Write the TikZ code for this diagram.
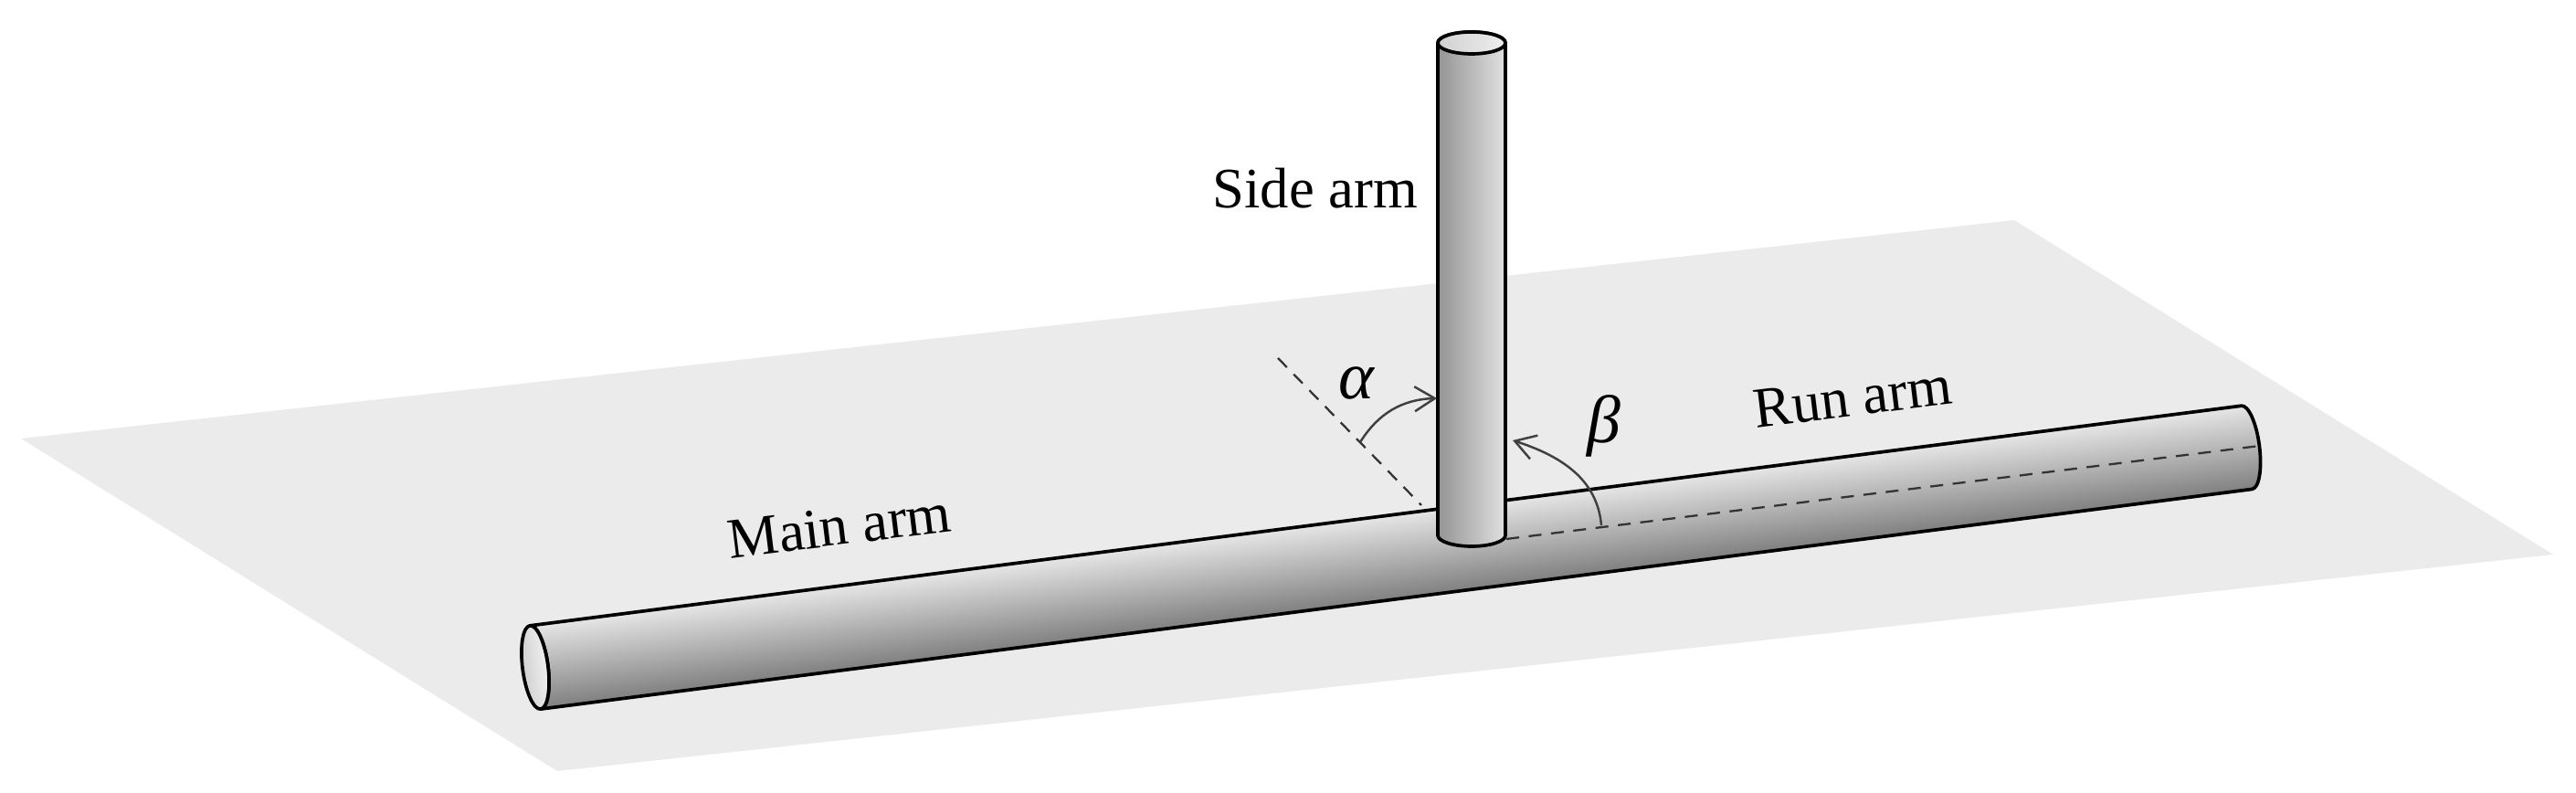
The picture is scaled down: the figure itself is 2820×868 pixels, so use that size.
\documentclass[tikz,border=0pt]{standalone}
\usepackage{fontspec}
\setmainfont{Liberation Serif}
\usetikzlibrary{arrows.meta}
\definecolor{planegray}{gray}{0.92}
\tikzset{
    armline/.style={draw=black,line width=1.05pt,line join=round},
    axisline/.style={draw=black!80,line width=.65pt,dash pattern=on 4pt off 3pt},
    anglearc/.style={draw=black!75,line width=.7pt,->},
    armlabel/.style={inner sep=0pt,font=\fontsize{17.8}{20}\selectfont},
    greeklabel/.style={inner sep=0pt,font=\fontsize{21}{24}\selectfont\itshape}
}
\begin{document}
\begin{tikzpicture}[x=.01cm,y=.01cm,>={Straight Barb[length=2.2mm,width=2.7mm]}]
    \useasboundingbox (0,0) rectangle (2820,868);
    \fill[planegray] (23,388)--(2205,627)--(2795,261)--(610,24)--cycle;
    \begin{scope}[transform canvas={shift={(586,137.5)},rotate=7.32}]
        \draw[armline,top color=black!10,middle color=black!24,bottom color=black!50]
            (0,46)--(1889,46) arc[start angle=90,end angle=-90,x radius=14,y radius=46]
            --(0,-46) arc[start angle=-90,end angle=90,x radius=14,y radius=46];
        \draw[armline,left color=black!18,right color=black!6] (0,0) ellipse[x radius=14,y radius=46];
    \end{scope}
    \coordinate (axisA) at (1649,278);
    \coordinate (axisB) at (2474,380);
    \draw[axisline] (axisA)--(axisB);
    \draw[armline,left color=black!42,middle color=black!24,right color=black!12]
        (1574,821)--(1574,282) arc[start angle=180,end angle=360,x radius=37,y radius=12]
        --(1648,821) arc[start angle=0,end angle=180,x radius=37,y radius=12];
    \draw[armline,left color=black!18,right color=black!7] (1611,821) ellipse[x radius=37,y radius=12];
    \coordinate (normalA) at (1399,476);
    \coordinate (normalB) at (1556,315);
    \draw[axisline] (normalA)--(normalB);
    \coordinate (alphaA) at (1489,384);
    \coordinate (alphaB) at (1573,432);
    \draw[anglearc] (alphaA) to[bend left=28] (alphaB);
    \coordinate (betaA) at (1753,293);
    \coordinate (betaB) at (1656,386);
    \draw[anglearc] (betaA) to[out=95,in=-18] (betaB);
    \node[armlabel,anchor=base west] (sidearm) at (1327,640) {Side arm};
    \node[armlabel,rotate=7] (mainarm) at (919,292) {Main arm};
    \node[armlabel,rotate=7] (runarm) at (2028,433) {Run arm};
    \node[greeklabel] (alpha) at (1485,449) {α};
    \node[greeklabel] (beta) at (1756,402) {β};
\end{tikzpicture}
\end{document}
